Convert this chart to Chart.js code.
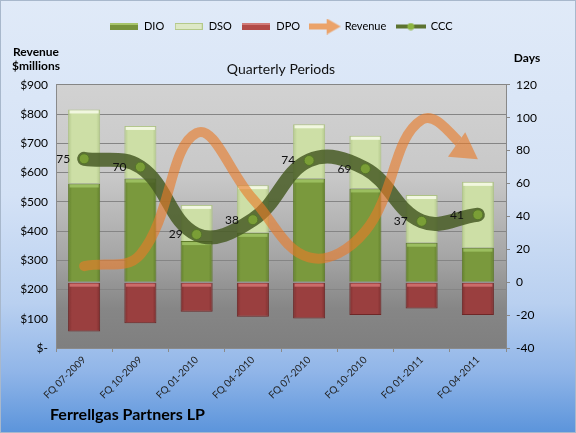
<!DOCTYPE html>
<html lang="en">
<head>
<meta charset="UTF-8">
<title>Ferrellgas Partners LP - CCC</title>
<style>
    * { margin: 0; padding: 0; }
    body { width: 576px; height: 433px; overflow: hidden; }
    .container { position: relative; width: 576px; height: 433px; }
</style>
</head>
<body>
<div class="container">
    <canvas id="chart" width="576" height="433"></canvas>
</div>
<script src="https://cdn.jsdelivr.net/npm/chart.js@4/dist/chart.umd.min.js"></script>
<script>
    // valores (dias no eixo da direita, receita em $ milhoes na esquerda)
    var periodos = ["FQ 07-2009", "FQ 10-2009", "FQ 01-2010", "FQ 04-2010",
        "FQ 07-2010", "FQ 10-2010", "FQ 01-2011", "FQ 04-2011"];
    var dio = [60, 63, 25, 30, 63, 57, 24, 21];
    var dso = [45, 32, 22, 29, 33, 32, 29, 40];
    var dpo = [-30, -25, -18, -21, -22, -20, -16, -20];
    var receita = [280, 320, 735, 510, 310, 400, 780, 645];
    var ccc = [75, 70, 29, 38, 74, 69, 37, 41];

    var fonte = 'Lato';
    var corReceita = 'rgba(232, 122, 40, 0.62)';
    var brilho = ['rgba(170, 205, 110, 0.7)', 'rgba(245, 250, 230, 0.9)', 'rgba(215, 120, 118, 0.8)'];

    function icone(w, h, desenho) {
        var c = document.createElement('canvas');
        c.width = w;
        c.height = h;
        desenho(c.getContext('2d'));
        return c;
    }

    var icones = [
        icone(28, 7, function (g) {
            g.fillStyle = '#77933c'; g.fillRect(0, 0, 28, 7);
            g.fillStyle = '#a6c46a'; g.fillRect(0, 0, 28, 2);
        }),
        icone(28, 7, function (g) {
            g.fillStyle = '#dde8c6'; g.fillRect(0, 0, 28, 7);
            g.strokeStyle = '#b4c98a'; g.strokeRect(0.5, 0.5, 27, 6);
        }),
        icone(28, 7, function (g) {
            g.fillStyle = '#b24a47'; g.fillRect(0, 0, 28, 7);
            g.fillStyle = '#d07a77'; g.fillRect(0, 0, 28, 2);
        }),
        icone(32, 16, function (g) {
            g.fillStyle = '#eba36a';
            g.fillRect(0, 5, 20, 6);
            g.beginPath(); g.moveTo(18, 0); g.lineTo(32, 8); g.lineTo(18, 16); g.closePath(); g.fill();
        }),
        icone(30, 8, function (g) {
            g.fillStyle = '#5c7330'; g.fillRect(0, 2, 30, 4);
            g.fillStyle = '#8db542'; g.beginPath(); g.arc(15, 4, 3.5, 0, Math.PI * 2); g.fill();
        })
    ];

    // degrade horizontal para dar volume as barras
    function corBarra(cor, borda) {
        return function (c) {
            var chart = c.chart;
            if (!chart.chartArea || c.dataIndex === undefined) return cor;
            var x = chart.scales.x.getPixelForValue(c.dataIndex);
            var g = chart.ctx.createLinearGradient(x - 16, 0, x + 16, 0);
            g.addColorStop(0, borda);
            g.addColorStop(0.12, cor);
            g.addColorStop(0.88, cor);
            g.addColorStop(1, borda);
            return g;
        };
    }

    function pontaSeta(chart) {
        var pts = chart.getDatasetMeta(3).data;
        var p = pts[pts.length - 1], q = pts[pts.length - 2];
        var ax = (p.cp1x !== undefined) ? p.cp1x : q.x;
        var ay = (p.cp1y !== undefined) ? p.cp1y : q.y;
        var dx = p.x - ax, dy = p.y - ay;
        var len = Math.hypot(dx, dy) || 1;
        dx /= len; dy /= len;
        var comp = 26;
        return { x: p.x, y: p.y, dx: dx, dy: dy, bx: p.x - dx * comp, by: p.y - dy * comp };
    }

    var fundo = {
        id: 'fundo',
        beforeDraw: function (chart) {
            var ctx = chart.ctx, a = chart.chartArea;
            ctx.save();
            var g = ctx.createLinearGradient(0, 0, 0, chart.height);
            g.addColorStop(0, '#e0eaf8');
            g.addColorStop(0.45, '#d4e2f6');
            g.addColorStop(0.7, '#b9d0f0');
            g.addColorStop(0.86, '#90b5e8');
            g.addColorStop(1, '#5b94db');
            ctx.fillStyle = g;
            ctx.fillRect(0, 0, chart.width, chart.height);
            ctx.strokeStyle = '#a8b8cc';
            ctx.strokeRect(0.5, 0.5, chart.width - 1, chart.height - 1);

            g = ctx.createLinearGradient(0, a.top, 0, a.bottom);
            g.addColorStop(0, '#d2d2d2');
            g.addColorStop(0.35, '#c8c8c8');
            g.addColorStop(0.65, '#a6a6a6');
            g.addColorStop(0.85, '#868686');
            g.addColorStop(1, '#7f7f7f');
            ctx.fillStyle = g;
            ctx.fillRect(a.left, a.top, a.right - a.left, a.bottom - a.top);
            ctx.restore();
        },
        beforeDatasetDraw: function (chart, args) {
            if (args.index !== 3) return;
            // corta a linha da receita onde entra a ponta da seta
            var s = pontaSeta(chart), ctx = chart.ctx, L = 300;
            var nx = -s.dy, ny = s.dx;
            ctx.save();
            ctx.beginPath();
            ctx.rect(0, 0, chart.width, chart.height);
            ctx.moveTo(s.bx + nx * L, s.by + ny * L);
            ctx.lineTo(s.bx + nx * L + s.dx * L, s.by + ny * L + s.dy * L);
            ctx.lineTo(s.bx - nx * L + s.dx * L, s.by - ny * L + s.dy * L);
            ctx.lineTo(s.bx - nx * L, s.by - ny * L);
            ctx.closePath();
            ctx.clip('evenodd');
        },
        afterDatasetDraw: function (chart, args) {
            var ctx = chart.ctx;
            if (args.index < 3) {
                // faixa clara no topo de cada segmento
                ctx.save();
                ctx.fillStyle = brilho[args.index];
                args.meta.data.forEach(function (b) {
                    var topo = Math.min(b.y, b.base);
                    ctx.fillRect(b.x - b.width / 2 + 1.5, topo + 1, b.width - 3, 3);
                });
                ctx.restore();
                return;
            }
            if (args.index !== 3) return;
            ctx.restore();
            var s = pontaSeta(chart), w = 15;
            var nx = -s.dy, ny = s.dx;
            ctx.save();
            ctx.fillStyle = corReceita;
            ctx.beginPath();
            ctx.moveTo(s.x, s.y);
            ctx.lineTo(s.bx + nx * w, s.by + ny * w);
            ctx.lineTo(s.bx - nx * w, s.by - ny * w);
            ctx.closePath();
            ctx.fill();
            ctx.restore();
        },
        afterDatasetsDraw: function (chart) {
            var ctx = chart.ctx;
            var pts = chart.getDatasetMeta(4).data;
            ctx.save();
            ctx.font = '12px ' + fonte;
            ctx.fillStyle = '#111';
            ctx.textAlign = 'right';
            ctx.textBaseline = 'middle';
            pts.forEach(function (p, i) {
                ctx.fillText(String(ccc[i]), p.x - 14, p.y);
            });
            ctx.restore();
        },
        afterDraw: function (chart) {
            var ctx = chart.ctx;
            ctx.save();
            ctx.fillStyle = '#000';
            ctx.textBaseline = 'middle';
            ctx.textAlign = 'center';
            ctx.font = 'bold 12px ' + fonte;
            ctx.fillText('Revenue', 36, 52);
            ctx.fillText('$millions', 36, 66);
            ctx.fillText('Days', 527, 58);
            ctx.textAlign = 'left';
            ctx.font = 'bold 16px ' + fonte;
            ctx.fillText('Ferrellgas Partners LP', 50, 415);
            ctx.restore();
        }
    };

    var ctx = document.getElementById('chart').getContext('2d');
    var myChart = new Chart(ctx, {
        data: {
            labels: periodos,
            datasets: [{
                type: 'bar',
                label: 'DIO',
                data: dio,
                yAxisID: 'dias',
                stack: 'dias',
                backgroundColor: corBarra('#7a993d', '#62802c'),
                borderColor: '#5e7a2a',
                borderWidth: 1,
                order: 3
            }, {
                type: 'bar',
                label: 'DSO',
                data: dso,
                yAxisID: 'dias',
                stack: 'dias',
                backgroundColor: corBarra('#cddfa6', '#b3c88b'),
                borderColor: '#aec286',
                borderWidth: 1,
                order: 3
            }, {
                type: 'bar',
                label: 'DPO',
                data: dpo,
                yAxisID: 'dias',
                stack: 'dias',
                backgroundColor: corBarra('#9a3f3f', '#7e2f2f'),
                borderColor: '#6e2727',
                borderWidth: 1,
                order: 3
            }, {
                type: 'line',
                label: 'Revenue',
                data: receita,
                yAxisID: 'receita',
                borderColor: corReceita,
                borderWidth: 10,
                borderCapStyle: 'round',
                tension: 0.4,
                pointRadius: 0,
                fill: false,
                order: 1
            }, {
                type: 'line',
                label: 'CCC',
                data: ccc,
                yAxisID: 'dias',
                stack: 'ccc',
                borderColor: 'rgba(72, 92, 36, 0.85)',
                borderWidth: 14,
                borderCapStyle: 'round',
                tension: 0.4,
                pointRadius: 5,
                pointBackgroundColor: '#7a9e36',
                pointBorderColor: '#56752a',
                pointBorderWidth: 1,
                fill: false,
                order: 2
            }]
        },
        options: {
            responsive: false,
            animation: false,
            layout: { padding: { top: 11, left: 0, right: 0, bottom: 0 } },
            plugins: {
                tooltip: { enabled: false },
                legend: {
                    position: 'top',
                    fullSize: false,
                    labels: {
                        usePointStyle: true,
                        pointStyleWidth: 29,
                        padding: 10,
                        color: '#000',
                        font: { family: fonte, size: 11 },
                        sort: function (a, b) { return a.datasetIndex - b.datasetIndex; },
                        generateLabels: function (chart) {
                            var itens = Chart.defaults.plugins.legend.labels.generateLabels(chart);
                            itens.forEach(function (it) { it.pointStyle = icones[it.datasetIndex]; });
                            return itens;
                        }
                    }
                },
                title: {
                    display: true,
                    fullSize: false,
                    text: 'Quarterly Periods',
                    weight: 500,
                    color: '#111',
                    font: { family: fonte, size: 14, weight: 'normal' },
                    padding: { top: 19, bottom: 7 }
                }
            },
            scales: {
                x: {
                    stacked: true,
                    grid: { drawOnChartArea: false, tickLength: 4, color: '#8a8a8a' },
                    border: { color: '#8a8a8a' },
                    ticks: { minRotation: 45, maxRotation: 45, color: '#222', padding: 2, font: { family: fonte, size: 10 } },
                    afterFit: function (s) { s.height = 85; }
                },
                receita: {
                    position: 'left',
                    min: 0,
                    max: 900,
                    grid: { color: '#858585', drawTicks: false },
                    border: { color: '#8a8a8a' },
                    ticks: {
                        stepSize: 100,
                        padding: 8,
                        color: '#000',
                        font: { family: fonte, size: 12 },
                        callback: function (v) { return v === 0 ? '$-' : '$' + v; }
                    },
                    afterFit: function (s) { s.width = 56; }
                },
                dias: {
                    position: 'right',
                    stacked: true,
                    min: -40,
                    max: 120,
                    grid: { drawOnChartArea: false, tickLength: 4, color: '#888' },
                    border: { color: '#888' },
                    ticks: { stepSize: 20, padding: 6, color: '#000', font: { family: fonte, size: 12 } },
                    afterFit: function (s) { s.width = 70; }
                }
            },
            datasets: {
                bar: { categoryPercentage: 1, barPercentage: 0.57 }
            }
        },
        plugins: [fundo]
    });
</script>
</body>
</html>
